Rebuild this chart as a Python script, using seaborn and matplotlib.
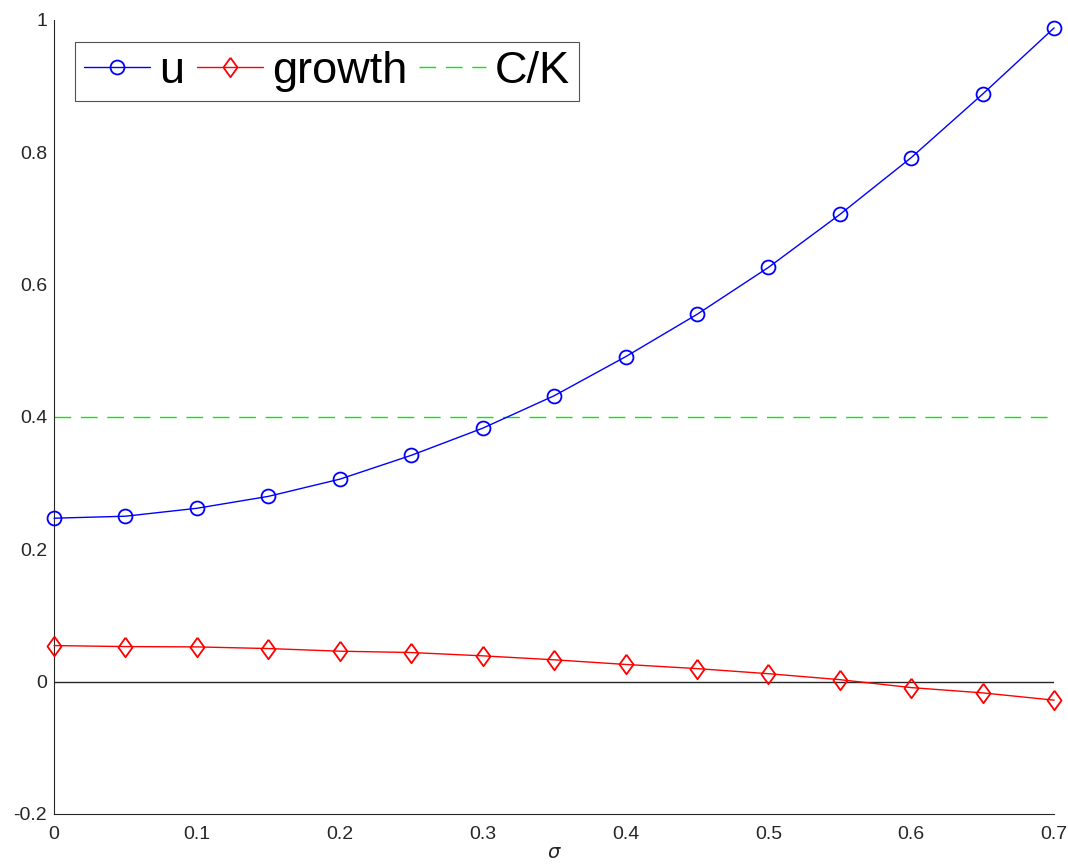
import numpy as np
import pandas as pd
import matplotlib
matplotlib.use("Agg")
import matplotlib.pyplot as plt
import seaborn as sns

sigma = [0.0, 0.05, 0.1, 0.15, 0.2, 0.25, 0.3, 0.35, 0.4, 0.45, 0.5, 0.55, 0.6, 0.65, 0.7]
u_vals = [0.247, 0.250, 0.262, 0.280, 0.306, 0.342, 0.383, 0.432, 0.491, 0.555,
          0.626, 0.706, 0.792, 0.888, 0.988]
growth_vals = [0.0545, 0.053, 0.0525, 0.050, 0.046, 0.044, 0.039, 0.033, 0.026, 0.0197,
               0.012, 0.003, -0.009, -0.017, -0.028]
c_over_k = 0.4
x_ticks = [0, 0.1, 0.2, 0.3, 0.4, 0.5, 0.6, 0.7]
y_ticks = [-0.2, 0, 0.2, 0.4, 0.6, 0.8, 1.0]
y_tick_labels = ["-0.2", "0", "0.2", "0.4", "0.6", "0.8", "1"]

sns.set_style("white")
plt.rcParams["font.family"] = ["Liberation Sans", "DejaVu Sans"]

df = pd.DataFrame({"sigma": sigma, "u": u_vals, "growth": growth_vals})

# diamond a little wider than matplotlib's thin diamond
diamond = [(0, 1), (0.72, 0), (0, -1), (-0.72, 0), (0, 1)]

fig = plt.figure(figsize=(10.68, 8.64), dpi=100)
ax = fig.add_axes([0.0506, 0.0579, 0.9364, 0.9190])

sns.lineplot(data=df, x="sigma", y="u", ax=ax, color="#0000ff", lw=1.0,
             marker="o", markersize=10, markerfacecolor="none",
             markeredgecolor="#0000ff", markeredgewidth=1.3, label="u",
             clip_on=False, zorder=3)
sns.lineplot(data=df, x="sigma", y="growth", ax=ax, color="#ff0000", lw=1.0,
             marker=diamond, markersize=14, markerfacecolor="none",
             markeredgecolor="#ff0000", markeredgewidth=1.3, label="growth",
             clip_on=False, zorder=3)
ax.axhline(c_over_k, color="#00ee00", lw=1.0, ls=(0, (12, 7)), label="C/K")
ax.axhline(0, color="#262626", lw=1.0, zorder=1)

ax.set_xlim(0, 0.7)
ax.set_ylim(-0.2, 1.0)
ax.set_xticks(x_ticks)
ax.set_xticklabels([f"{t:g}" for t in x_ticks])
ax.set_yticks(y_ticks)
ax.set_yticklabels(y_tick_labels)
ax.tick_params(direction="in", length=7.5, width=0.8, colors="#262626",
               labelsize=14, labelcolor="#262626")
ax.tick_params(axis="y", pad=5)
ax.tick_params(axis="x", pad=9)
for s in ["top", "right"]:
    ax.spines[s].set_visible(False)
for s in ["left", "bottom"]:
    ax.spines[s].set_color("#262626")
    ax.spines[s].set_linewidth(0.8)

ax.set_xlabel(r"$\sigma$", fontsize=14, labelpad=1, color="#262626")
ax.set_ylabel("")

leg = ax.legend(loc="upper left", ncol=3, fontsize=32.5, frameon=True, fancybox=False,
                handlelength=1.47, handletextpad=0.2, columnspacing=0.27,
                borderpad=0.2, borderaxespad=0.0, bbox_to_anchor=(0.021, 0.972))
leg.get_frame().set_edgecolor("#262626")
leg.get_frame().set_linewidth(0.8)
for t in leg.get_texts():
    t.set_color("black")

fig.savefig("out.png", dpi=100)
